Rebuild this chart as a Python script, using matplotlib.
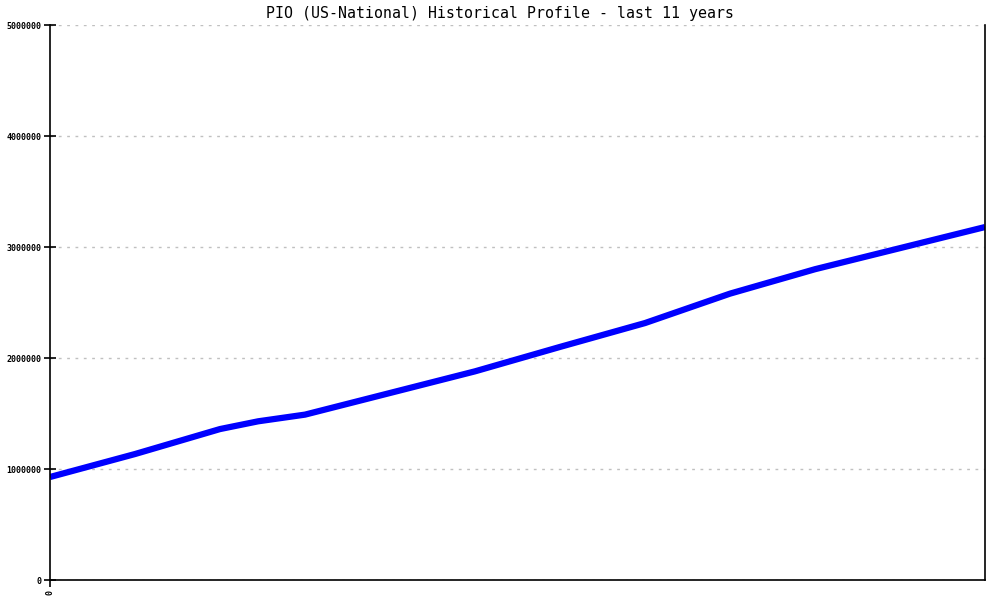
import matplotlib
matplotlib.use("Agg")
import matplotlib.pyplot as plt

# samples over the last 11 years (x in years)
years = [0, 1, 2, 2.45, 3, 4, 5, 6, 7, 8, 9, 10, 11]
values = [928000, 1135000, 1360000, 1430000, 1490000, 1685000, 1880000,
          2100000, 2315000, 2580000, 2800000, 2990000, 3180000]
yticks = [0, 1000000, 2000000, 3000000, 4000000, 5000000]

fig = plt.figure(figsize=(10, 6), dpi=100)
ax = fig.add_axes([0.05, 0.0333, 0.935, 0.925])

ax.plot(years, values, color="#0000ff", linewidth=4.5, solid_capstyle="butt",
        solid_joinstyle="round")

ax.set_xlim(0, 11)
ax.set_ylim(0, 5000000)
ax.set_yticks(yticks)
ax.set_yticklabels([str(v) for v in yticks], family="DejaVu Sans Mono",
                   fontsize=6, fontweight="bold")
ax.set_xticks([0])
ax.set_xticklabels(["0"], rotation=90, family="DejaVu Sans Mono",
                   fontsize=6, fontweight="bold")
ax.tick_params(axis="y", direction="inout", length=8, width=1.2, pad=2)
ax.tick_params(axis="x", direction="out", length=5, width=1.2, pad=2)

ax.yaxis.grid(True, linestyle=(0, (2, 4)), color="#c0c0c0", linewidth=1)
ax.set_axisbelow(True)
ax.spines["top"].set_visible(False)
for s in ["left", "bottom", "right"]:
    ax.spines[s].set_linewidth(1.2)
    ax.spines[s].set_color("black")

fig.text(0.5, 0.978, "PIO (US-National) Historical Profile - last 11 years",
         ha="center", va="center", family="DejaVu Sans Mono", fontsize=10.7)

fig.savefig("out.png", dpi=100)
